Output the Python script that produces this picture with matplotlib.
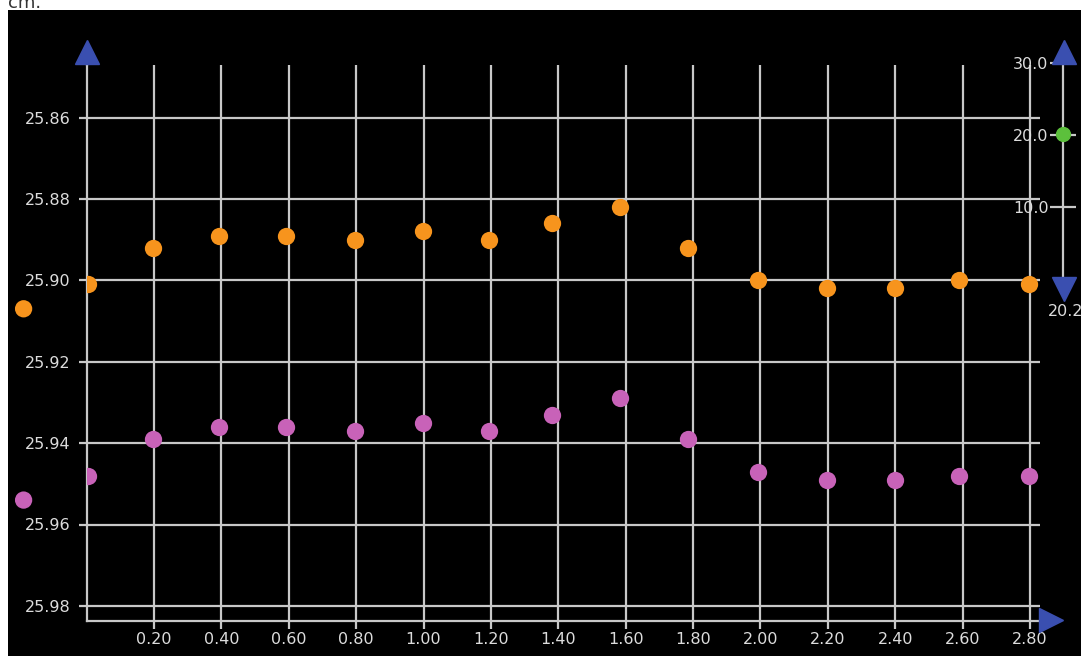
import matplotlib.pyplot as plt
from matplotlib.patches import Rectangle
from matplotlib.lines import Line2D

# Data
x_vals = [0.005, 0.198, 0.393, 0.591, 0.797, 0.998, 1.195, 1.381, 1.583,
          1.786, 1.994, 2.197, 2.400, 2.590, 2.797]
orange_vals = [25.901, 25.892, 25.889, 25.889, 25.890, 25.888, 25.890, 25.886,
               25.882, 25.892, 25.900, 25.902, 25.902, 25.900, 25.901]
purple_vals = [25.948, 25.939, 25.936, 25.936, 25.937, 25.935, 25.937, 25.933,
               25.929, 25.939, 25.947, 25.949, 25.949, 25.948, 25.948]
# current value markers drawn left of the y axis
current_vals = [25.907, 25.954]
xticks = [0.2, 0.4, 0.6, 0.8, 1.0, 1.2, 1.4, 1.6, 1.8, 2.0, 2.2, 2.4, 2.6, 2.8]
yticks = [25.86, 25.88, 25.90, 25.92, 25.94, 25.96, 25.98]
slider_ticks = [10, 20, 30]
slider_value = 20.2

W, H = 1081, 656
ORANGE = '#f7941d'
PURPLE = '#c862b8'
GRID = '#c8c8c8'
TXT = '#dcdcdc'
BLUE = '#3a4fb0'


def fx(px):
    return px / W


def fy(py):
    return 1 - py / H


fig = plt.figure(figsize=(W / 100, H / 100), dpi=100, facecolor='white')
fig.patches.append(Rectangle((fx(8), 0), 1, fy(10), transform=fig.transFigure,
                             facecolor='black', edgecolor='none', zorder=-5))
fig.text(fx(8), fy(8), 'cm.', fontsize=13, color='#333333', va='baseline')

# main axes: x 0 at px 86.6, 336.9 px per unit; y 25.86 at px 117.5, 4070 px per unit
left, right, top, bottom = 86.6, 1040, 65, 621
ax = fig.add_axes([fx(left), fy(bottom), fx(right - left), (bottom - top) / H])
ax.set_facecolor('none')
ax.set_xlim(0, (right - left) / 336.9)
ax.set_ylim(25.86 + (bottom - 117.5) / 4070, 25.86 - (117.5 - top) / 4070)

ax.set_xticks(xticks)
ax.set_xticklabels(['%.2f' % v for v in xticks])
ax.set_yticks(yticks)
ax.set_yticklabels(['%.2f' % v for v in yticks])
ax.tick_params(colors=GRID, labelcolor=TXT, labelsize=11.5, length=5.5, width=1.6)
ax.tick_params(axis='x', pad=2.5)
ax.tick_params(axis='y', pad=6)
ax.grid(True, color=GRID, linewidth=1.6)
ax.set_axisbelow(True)
for side in ['top', 'right']:
    ax.spines[side].set_visible(False)
for side in ['left', 'bottom']:
    ax.spines[side].set_color(GRID)
    ax.spines[side].set_linewidth(1.6)

ax.scatter(x_vals, orange_vals, s=155, color=ORANGE, zorder=3, linewidths=0)
ax.scatter(x_vals, purple_vals, s=155, color=PURPLE, zorder=3, linewidths=0)
ax.scatter([-0.187] * 2, current_vals, s=155, color=[ORANGE, PURPLE],
           zorder=3, linewidths=0, clip_on=False)

# axis arrows
fig.add_artist(Line2D([fx(left), fx(left)], [fy(top), fy(60)], color=GRID, lw=1.6))
fig.add_artist(Line2D([fx(left)], [fy(52)], marker='^', ms=17, color=BLUE, lw=0))
fig.add_artist(Line2D([fx(1051)], [fy(620)], marker='>', ms=17, color=BLUE, lw=0))

# slider on the right: 0 at px 279, 30 at px 63
s_top, s_bot = 63, 279
sax = fig.add_axes([fx(1063), fy(s_bot), 0.0005, (s_bot - s_top) / H])
sax.set_facecolor('none')
sax.set_ylim(0, 30)
sax.set_xlim(-1, 1)
sax.set_xticks([])
sax.set_yticks(slider_ticks)
sax.set_yticklabels(['%.1f' % v for v in slider_ticks])
sax.tick_params(axis='y', direction='inout', length=19, width=1.6, colors=GRID,
                labelcolor=TXT, labelsize=11.5, pad=1)
for side in ['top', 'right', 'bottom']:
    sax.spines[side].set_visible(False)
sax.spines['left'].set_color(GRID)
sax.spines['left'].set_linewidth(1.6)
sax.spines['left'].set_position(('data', -1))
sax.plot([-1], [slider_value], 'o', ms=10, color='#5cc03c', clip_on=False, zorder=4)
fig.add_artist(Line2D([fx(1063.5)], [fy(52)], marker='^', ms=17, color=BLUE, lw=0))
fig.add_artist(Line2D([fx(1063.5)], [fy(289)], marker='v', ms=17, color=BLUE, lw=0))
fig.text(fx(1048), fy(311), '%.1f' % slider_value, fontsize=11.5, color=TXT,
         va='center', ha='left')

fig.savefig('out.png', dpi=100, facecolor='white')
